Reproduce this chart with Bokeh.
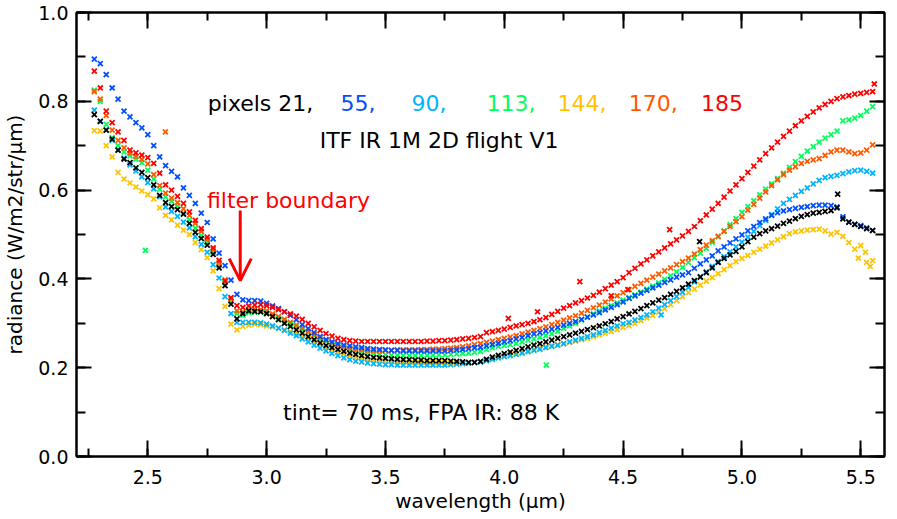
from bokeh.plotting import figure
from bokeh.models import (LinearAxis, SingleIntervalTicker, PrintfTickFormatter,
                          CustomJSTickFormatter, Label, Arrow, OpenHead, Range1d)
from bokeh.embed import file_html
from bokeh.resources import INLINE

# ---------------- data ----------------
wavelength = [
    2.275, 2.300, 2.325, 2.350, 2.375, 2.400, 2.425, 2.450, 2.475, 2.500,
    2.525, 2.550, 2.575, 2.600, 2.625, 2.650, 2.675, 2.700, 2.725, 2.750,
    2.775, 2.800, 2.825, 2.850, 2.875, 2.900, 2.925, 2.950, 2.975, 3.000,
    3.025, 3.050, 3.075, 3.100, 3.125, 3.150, 3.175, 3.200, 3.225, 3.250,
    3.275, 3.300, 3.325, 3.350, 3.375, 3.400, 3.425, 3.450, 3.475, 3.500,
    3.525, 3.550, 3.575, 3.600, 3.625, 3.650, 3.675, 3.700, 3.725, 3.750,
    3.775, 3.800, 3.825, 3.850, 3.875, 3.900, 3.925, 3.950, 3.975, 4.000,
    4.025, 4.050, 4.075, 4.100, 4.125, 4.150, 4.175, 4.200, 4.225, 4.250,
    4.275, 4.300, 4.325, 4.350, 4.375, 4.400, 4.425, 4.450, 4.475, 4.500,
    4.525, 4.550, 4.575, 4.600, 4.625, 4.650, 4.675, 4.700, 4.725, 4.750,
    4.775, 4.800, 4.825, 4.850, 4.875, 4.900, 4.925, 4.950, 4.975, 5.000,
    5.025, 5.050, 5.075, 5.100, 5.125, 5.150, 5.175, 5.200, 5.225, 5.250,
    5.275, 5.300, 5.325, 5.350, 5.375, 5.400, 5.425, 5.450, 5.475, 5.500,
    5.525, 5.550,
]

pix21 = [  # black
    0.770, 0.755, 0.735, 0.715, 0.690, 0.670, 0.662, 0.650, 0.640, 0.628,
    0.612, 0.588, 0.572, 0.563, 0.556, 0.546, 0.525, 0.505, 0.491, 0.476,
    0.455, 0.425, 0.385, 0.343, 0.310, 0.322, 0.328, 0.327, 0.326, 0.322,
    0.315, 0.308, 0.300, 0.293, 0.285, 0.278, 0.270, 0.263, 0.256, 0.250,
    0.245, 0.241, 0.237, 0.233, 0.230, 0.227, 0.225, 0.223, 0.222, 0.221,
    0.220, 0.219, 0.218, 0.218, 0.217, 0.217, 0.216, 0.216, 0.216, 0.216,
    0.215, 0.214, 0.213, 0.212, 0.212, 0.214, 0.219, 0.224, 0.228, 0.232,
    0.235, 0.239, 0.243, 0.247, 0.251, 0.254, 0.258, 0.262, 0.266, 0.270,
    0.274, 0.278, 0.282, 0.286, 0.290, 0.294, 0.299, 0.304, 0.310, 0.315,
    0.321, 0.327, 0.333, 0.340, 0.346, 0.352, 0.358, 0.365, 0.372, 0.380,
    0.388, 0.396, 0.404, 0.414, 0.425, 0.437, 0.446, 0.454, 0.462, 0.472,
    0.484, 0.494, 0.502, 0.508, 0.513, 0.519, 0.525, 0.530, 0.536, 0.541,
    0.545, 0.548, 0.550, 0.552, 0.554, 0.560, 0.535, 0.528, 0.523, 0.518,
    0.513, 0.509,
]

pix55 = [  # blue
    0.895, 0.885, 0.860, 0.830, 0.805, 0.778, 0.765, 0.752, 0.740, 0.725,
    0.700, 0.675, 0.655, 0.642, 0.630, 0.605, 0.588, 0.570, 0.548, 0.527,
    0.490, 0.458, 0.430, 0.397, 0.365, 0.353, 0.351, 0.351, 0.350, 0.345,
    0.339, 0.333, 0.326, 0.318, 0.308, 0.297, 0.288, 0.279, 0.270, 0.263,
    0.258, 0.254, 0.251, 0.249, 0.247, 0.245, 0.243, 0.242, 0.241, 0.240,
    0.239, 0.239, 0.238, 0.238, 0.238, 0.238, 0.238, 0.238, 0.238, 0.238,
    0.239, 0.240, 0.241, 0.243, 0.245, 0.246, 0.249, 0.252, 0.255, 0.258,
    0.261, 0.265, 0.268, 0.272, 0.276, 0.279, 0.283, 0.287, 0.291, 0.296,
    0.300, 0.304, 0.309, 0.314, 0.319, 0.324, 0.330, 0.336, 0.342, 0.348,
    0.356, 0.362, 0.368, 0.374, 0.380, 0.386, 0.392, 0.398, 0.404, 0.409,
    0.414, 0.424, 0.434, 0.443, 0.452, 0.463, 0.472, 0.481, 0.490, 0.499,
    0.508, 0.518, 0.527, 0.535, 0.543, 0.549, 0.553, 0.556, 0.559, 0.561,
    0.563, 0.565, 0.566, 0.566, 0.565, 0.562, 0.540, 0.528, 0.523, 0.520,
    0.515, 0.509,
]

pix90 = [  # light blue
    0.780, 0.755, 0.735, 0.712, 0.690, 0.672, 0.657, 0.643, 0.630, 0.617,
    0.603, 0.585, 0.562, 0.552, 0.541, 0.528, 0.515, 0.495, 0.478, 0.460,
    0.432, 0.402, 0.360, 0.322, 0.302, 0.302, 0.302, 0.302, 0.301, 0.298,
    0.294, 0.289, 0.284, 0.278, 0.272, 0.265, 0.258, 0.251, 0.244, 0.238,
    0.232, 0.227, 0.222, 0.218, 0.215, 0.213, 0.211, 0.209, 0.208, 0.207,
    0.207, 0.206, 0.206, 0.206, 0.206, 0.206, 0.206, 0.206, 0.206, 0.206,
    0.207, 0.208, 0.209, 0.210, 0.212, 0.213, 0.216, 0.219, 0.222, 0.225,
    0.227, 0.230, 0.233, 0.236, 0.239, 0.242, 0.245, 0.248, 0.251, 0.254,
    0.258, 0.262, 0.266, 0.270, 0.274, 0.279, 0.284, 0.289, 0.294, 0.299,
    0.302, 0.307, 0.313, 0.319, 0.326, 0.334, 0.342, 0.351, 0.360, 0.370,
    0.381, 0.393, 0.405, 0.416, 0.428, 0.439, 0.450, 0.461, 0.472, 0.483,
    0.494, 0.507, 0.520, 0.532, 0.545, 0.558, 0.570, 0.579, 0.588, 0.597,
    0.605, 0.614, 0.622, 0.628, 0.631, 0.633, 0.637, 0.641, 0.644, 0.645,
    0.642, 0.638,
]

pix113 = [  # green
    0.825, 0.800, 0.748, 0.718, 0.700, 0.686, 0.677, 0.670, 0.662, 0.645,
    0.625, 0.602, 0.585, 0.575, 0.564, 0.548, 0.533, 0.514, 0.498, 0.482,
    0.460, 0.430, 0.392, 0.350, 0.322, 0.318, 0.324, 0.325, 0.325, 0.323,
    0.317, 0.311, 0.305, 0.298, 0.292, 0.286, 0.279, 0.272, 0.265, 0.259,
    0.254, 0.249, 0.245, 0.241, 0.238, 0.235, 0.233, 0.231, 0.230, 0.229,
    0.228, 0.228, 0.227, 0.227, 0.227, 0.227, 0.228, 0.228, 0.229, 0.229,
    0.230, 0.231, 0.232, 0.233, 0.235, 0.237, 0.241, 0.245, 0.248, 0.250,
    0.252, 0.255, 0.258, 0.262, 0.265, 0.269, 0.272, 0.276, 0.282, 0.289,
    0.294, 0.300, 0.307, 0.314, 0.321, 0.328, 0.334, 0.340, 0.346, 0.352,
    0.358, 0.364, 0.370, 0.377, 0.384, 0.391, 0.399, 0.407, 0.416, 0.426,
    0.437, 0.448, 0.458, 0.469, 0.482, 0.495, 0.508, 0.522, 0.536, 0.550,
    0.563, 0.576, 0.589, 0.602, 0.614, 0.626, 0.638, 0.651, 0.664, 0.676,
    0.688, 0.698, 0.708, 0.717, 0.725, 0.733, 0.756, 0.758, 0.762, 0.768,
    0.778, 0.788,
]

pix144 = [  # yellow
    0.734, 0.733, 0.700, 0.675, 0.640, 0.625, 0.616, 0.607, 0.598, 0.590,
    0.580, 0.560, 0.543, 0.533, 0.521, 0.510, 0.500, 0.482, 0.466, 0.448,
    0.418, 0.378, 0.338, 0.298, 0.285, 0.293, 0.296, 0.298, 0.297, 0.294,
    0.292, 0.289, 0.285, 0.281, 0.277, 0.272, 0.266, 0.259, 0.252, 0.246,
    0.240, 0.235, 0.231, 0.227, 0.224, 0.221, 0.219, 0.217, 0.216, 0.215,
    0.214, 0.213, 0.213, 0.212, 0.212, 0.212, 0.211, 0.211, 0.211, 0.211,
    0.211, 0.211, 0.211, 0.211, 0.212, 0.213, 0.216, 0.220, 0.223, 0.226,
    0.229, 0.232, 0.235, 0.238, 0.241, 0.244, 0.247, 0.250, 0.252, 0.254,
    0.257, 0.260, 0.263, 0.266, 0.270, 0.274, 0.278, 0.282, 0.286, 0.291,
    0.295, 0.300, 0.306, 0.312, 0.318, 0.325, 0.333, 0.342, 0.351, 0.360,
    0.369, 0.377, 0.386, 0.395, 0.403, 0.412, 0.421, 0.430, 0.439, 0.446,
    0.453, 0.460, 0.467, 0.474, 0.481, 0.488, 0.495, 0.502, 0.506, 0.508,
    0.510, 0.511, 0.512, 0.508, 0.501, 0.505, 0.496, 0.482, 0.467, 0.475,
    0.437, 0.441,
]

pix170 = [  # orange
    0.822, 0.805, 0.768, 0.735, 0.712, 0.695, 0.683, 0.676, 0.669, 0.659,
    0.635, 0.610, 0.593, 0.582, 0.572, 0.558, 0.543, 0.525, 0.507, 0.489,
    0.466, 0.436, 0.398, 0.355, 0.328, 0.325, 0.330, 0.332, 0.331, 0.328,
    0.321, 0.315, 0.309, 0.302, 0.296, 0.289, 0.282, 0.275, 0.268, 0.262,
    0.256, 0.251, 0.247, 0.244, 0.242, 0.240, 0.239, 0.238, 0.238, 0.239,
    0.239, 0.240, 0.240, 0.240, 0.240, 0.241, 0.241, 0.242, 0.242, 0.243,
    0.244, 0.245, 0.247, 0.249, 0.252, 0.254, 0.257, 0.260, 0.263, 0.266,
    0.269, 0.272, 0.276, 0.280, 0.284, 0.288, 0.292, 0.297, 0.302, 0.307,
    0.312, 0.317, 0.323, 0.329, 0.335, 0.341, 0.348, 0.355, 0.362, 0.369,
    0.376, 0.383, 0.390, 0.397, 0.404, 0.411, 0.418, 0.425, 0.432, 0.439,
    0.447, 0.456, 0.466, 0.476, 0.486, 0.496, 0.507, 0.518, 0.529, 0.540,
    0.555, 0.568, 0.582, 0.596, 0.610, 0.623, 0.635, 0.645, 0.653, 0.660,
    0.665, 0.668, 0.671, 0.678, 0.686, 0.690, 0.690, 0.686, 0.682, 0.684,
    0.690, 0.702,
]

pix185 = [  # red
    0.868, 0.830, 0.778, 0.752, 0.731, 0.712, 0.690, 0.684, 0.679, 0.673,
    0.660, 0.638, 0.612, 0.600, 0.586, 0.570, 0.551, 0.532, 0.513, 0.494,
    0.470, 0.442, 0.395, 0.358, 0.340, 0.336, 0.339, 0.341, 0.342, 0.340,
    0.336, 0.331, 0.326, 0.321, 0.316, 0.309, 0.300, 0.292, 0.284, 0.277,
    0.271, 0.266, 0.263, 0.261, 0.260, 0.259, 0.259, 0.259, 0.259, 0.259,
    0.259, 0.259, 0.259, 0.259, 0.259, 0.259, 0.260, 0.260, 0.261, 0.261,
    0.262, 0.263, 0.265, 0.266, 0.268, 0.270, 0.279, 0.281, 0.284, 0.287,
    0.291, 0.294, 0.297, 0.300, 0.304, 0.308, 0.313, 0.320, 0.327, 0.334,
    0.340, 0.346, 0.351, 0.357, 0.363, 0.370, 0.378, 0.386, 0.394, 0.403,
    0.414, 0.424, 0.434, 0.443, 0.452, 0.461, 0.470, 0.479, 0.488, 0.497,
    0.507, 0.518, 0.531, 0.544, 0.557, 0.570, 0.584, 0.598, 0.612, 0.626,
    0.640, 0.654, 0.668, 0.682, 0.695, 0.708, 0.721, 0.733, 0.745, 0.756,
    0.766, 0.776, 0.785, 0.793, 0.800, 0.806, 0.810, 0.813, 0.816, 0.818,
    0.820, 0.822,
]

# isolated stray samples
out21_x, out21_y = [4.822, 5.403], [0.484, 0.591]
out90_x, out90_y = [4.660], [0.319]
out113_x, out113_y = [2.490, 4.177], [0.464, 0.206]
out144_x, out144_y = [5.490, 5.520, 5.540], [0.447, 0.460, 0.428]
out170_x, out170_y = [2.574], [0.731]
out185_x, out185_y = [4.017, 4.140, 4.318, 4.450, 4.520, 4.696, 5.557], \
                     [0.311, 0.326, 0.394, 0.362, 0.376, 0.511, 0.839]

pixel_ids = ["21", "55", "90", "113", "144", "170", "185"]

x_ticks_interval = 0.5
y_ticks_interval = 0.2

# ---------------- figure ----------------
FONT = "DejaVu Sans"
C = {"21": "#000000", "55": "#0050ff", "90": "#00b4ff", "113": "#00ff5a",
     "144": "#ffc400", "170": "#ff5a00", "185": "#ff0000"}

p = figure(frame_width=808, frame_height=444,
           x_range=Range1d(2.2, 5.6), y_range=Range1d(0.0, 1.0),
           output_backend="svg", toolbar_location=None,
           min_border_left=71, min_border_right=2, min_border_top=12,
           min_border_bottom=40,
           x_axis_label="wavelength (µm)",
           y_axis_label="radiance (W/m2/str/µm)")
p.xgrid.visible = False
p.ygrid.visible = False
p.outline_line_color = "black"
p.outline_line_width = 2
p.background_fill_color = "white"
p.border_fill_color = "white"

def style_axis(ax, major_in, minor_in, show_labels):
    ax.axis_line_color = "black"
    ax.axis_line_width = 2
    ax.major_tick_in = major_in
    ax.major_tick_out = 0
    ax.minor_tick_in = minor_in
    ax.minor_tick_out = 0
    ax.major_tick_line_width = 2
    ax.minor_tick_line_width = 2
    ax.major_tick_line_color = "black"
    ax.minor_tick_line_color = "black"
    if show_labels:
        ax.formatter = PrintfTickFormatter(format="%.1f")
        ax.major_label_text_font = FONT
        ax.major_label_text_font_size = "19px"
        ax.major_label_text_color = "black"
        ax.axis_label_text_font = FONT
        ax.axis_label_text_font_size = "20px"
        ax.axis_label_text_font_style = "normal"
        ax.axis_label_text_color = "black"
    else:
        ax.formatter = CustomJSTickFormatter(code="return ''")
        ax.major_label_text_font_size = "1px"
        ax.major_label_standoff = 0

xt = SingleIntervalTicker(interval=x_ticks_interval, num_minor_ticks=2)
yt = SingleIntervalTicker(interval=y_ticks_interval, num_minor_ticks=2)

p.xaxis.ticker = xt
p.yaxis.ticker = yt
style_axis(p.xaxis[0], 16, 8, True)
style_axis(p.yaxis[0], 15, 9, True)
p.xaxis.major_label_standoff = 13
p.xaxis.axis_label_standoff = 2
p.yaxis.major_label_standoff = 8
p.yaxis.axis_label_standoff = 8

top = LinearAxis(ticker=SingleIntervalTicker(interval=x_ticks_interval, num_minor_ticks=2))
style_axis(top, 16, 8, False)
p.add_layout(top, "above")
right = LinearAxis(ticker=SingleIntervalTicker(interval=y_ticks_interval, num_minor_ticks=2))
style_axis(right, 15, 9, False)
p.add_layout(right, "right")

series = {"21": pix21, "55": pix55, "90": pix90, "113": pix113,
          "144": pix144, "170": pix170, "185": pix185}
outliers = {"21": (out21_x, out21_y), "90": (out90_x, out90_y),
            "113": (out113_x, out113_y), "144": (out144_x, out144_y),
            "170": (out170_x, out170_y), "185": (out185_x, out185_y)}

order = ["144", "90", "113", "170", "55", "185", "21"]
for k in order:
    ys = series[k]
    n = min(len(wavelength), len(ys))
    p.scatter(wavelength[:n], ys[:n], marker="x", size=7, line_width=1.8,
              line_color=C[k])
    if k in outliers:
        ox, oy = outliers[k]
        p.scatter(ox, oy, marker="x", size=7, line_width=1.8, line_color=C[k])

# ---------------- annotations ----------------
def lab(x, y, text, color, align="left", size="22px"):
    p.add_layout(Label(x=x, y=y, text=text, text_font=FONT, text_font_size=size,
                       text_color=color, text_align=align,
                       text_baseline="alphabetic"))

head_x = [2.7525, 3.311, 3.610, 3.925, 4.224, 4.524, 4.828]
head_txt = ["pixels 21,", "55,", "90,", "113,", "144,", "170,", "185"]
for hx, ht, k in zip(head_x, head_txt, pixel_ids):
    lab(hx, 0.7955, ht, C[k])

lab(3.7256, 0.7106, "ITF IR 1M 2D flight V1", "black", align="center")
lab(3.650, 0.100, "tint= 70 ms, FPA IR: 88 K", "black", align="center")
lab(2.749, 0.576, "filter boundary", "#ff0000")

p.add_layout(Arrow(end=OpenHead(size=22, line_color="#ff0000", line_width=3),
                   x_start=2.889, y_start=0.554, x_end=2.889, y_end=0.396,
                   line_color="#ff0000", line_width=3))

open("out.html", "w").write(file_html(p, INLINE))
